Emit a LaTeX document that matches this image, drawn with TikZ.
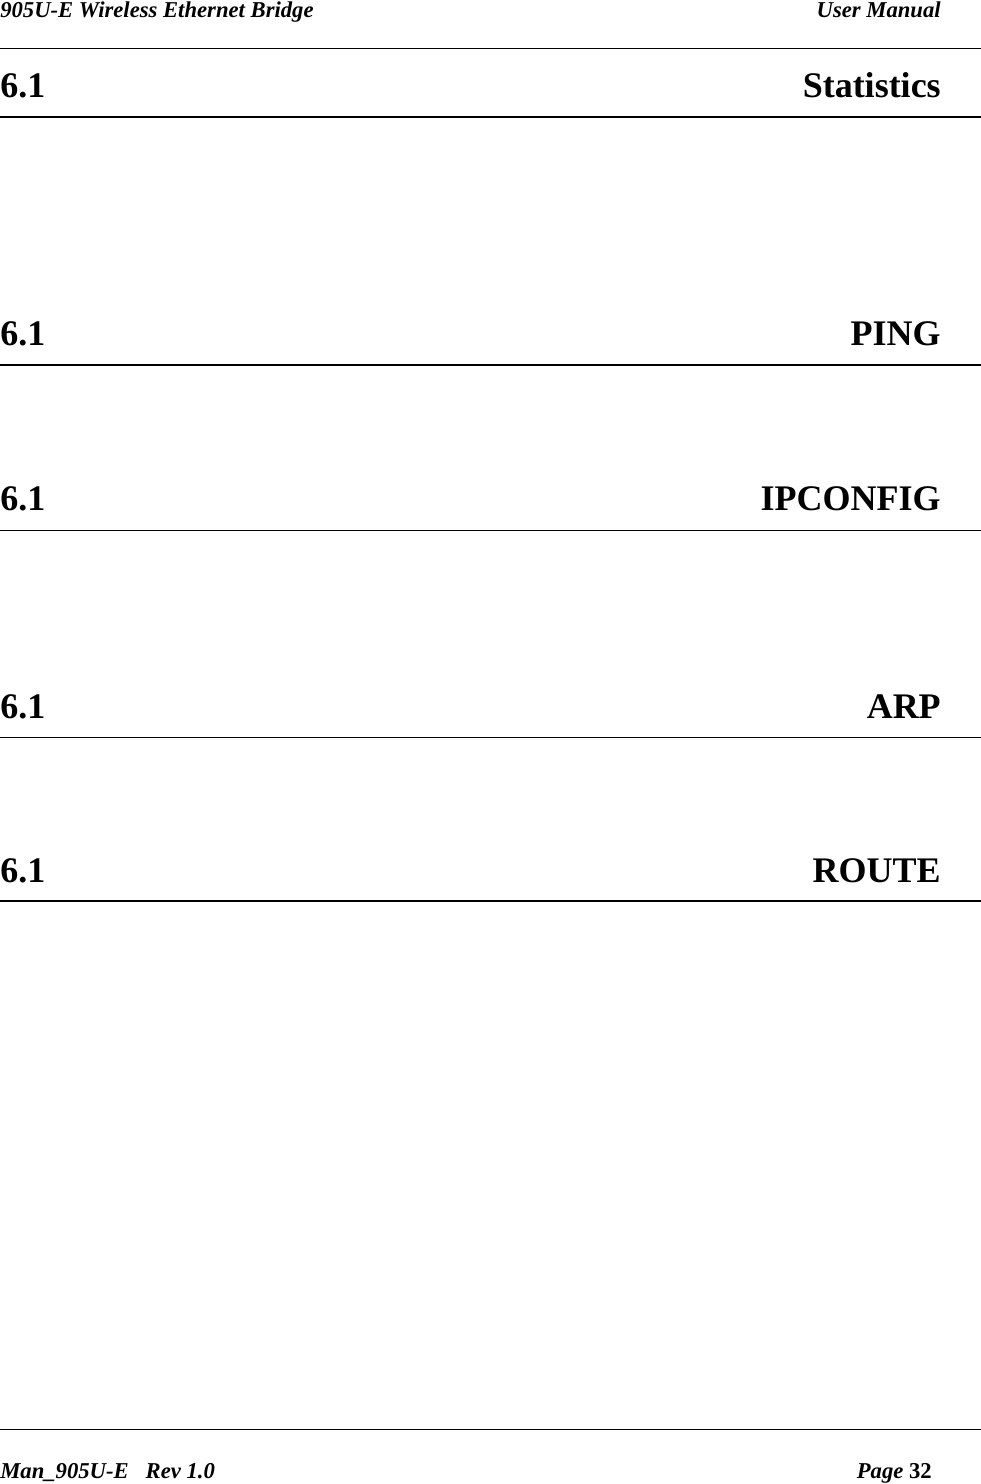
\documentclass[tikz,border=0pt]{standalone}
\usepackage{fontspec}
\setmainfont{Liberation Serif}
\begin{document}
\begin{tikzpicture}[x=0.75pt,y=-0.75pt,
  hdr/.style={inner sep=0pt,font=\fontsize{17}{20}\selectfont\bfseries\itshape},
  sec/.style={inner sep=0pt,font=\fontsize{27}{32}\selectfont\bfseries},
  thin/.style={line width=0.75pt},
  thick/.style={line width=1.5pt}]
\useasboundingbox (0,0) rectangle (981,1484);
\node[hdr,anchor=base west] (h1) at (0,18) {905U-E Wireless Ethernet Bridge};
\node[hdr,anchor=base east] (h2) at (941,18) {User Manual};
\draw[thin] (0,49) -- (981,49);
\foreach \y/\t/\l/\s in {98/Statistics/117/thick, 345/PING/365/thick, 510/IPCONFIG/530/thin, 718/ARP/737/thin, 882/ROUTE/901/thick}{
  \node[sec,anchor=base west] at (0,\y) {6.1};
  \node[sec,anchor=base east] at (941,\y) {\t};
  \draw[\s] (0,\l) -- (981,\l);
}
\draw[thin] (0,1429) -- (981,1429);
\node[hdr,anchor=base west] (f1) at (0,1478) {Man\_905U-E\ \ \ Rev 1.0};
\node[hdr,anchor=base east] (f2) at (932,1478) {Page \upshape 32};
\end{tikzpicture}
\end{document}
